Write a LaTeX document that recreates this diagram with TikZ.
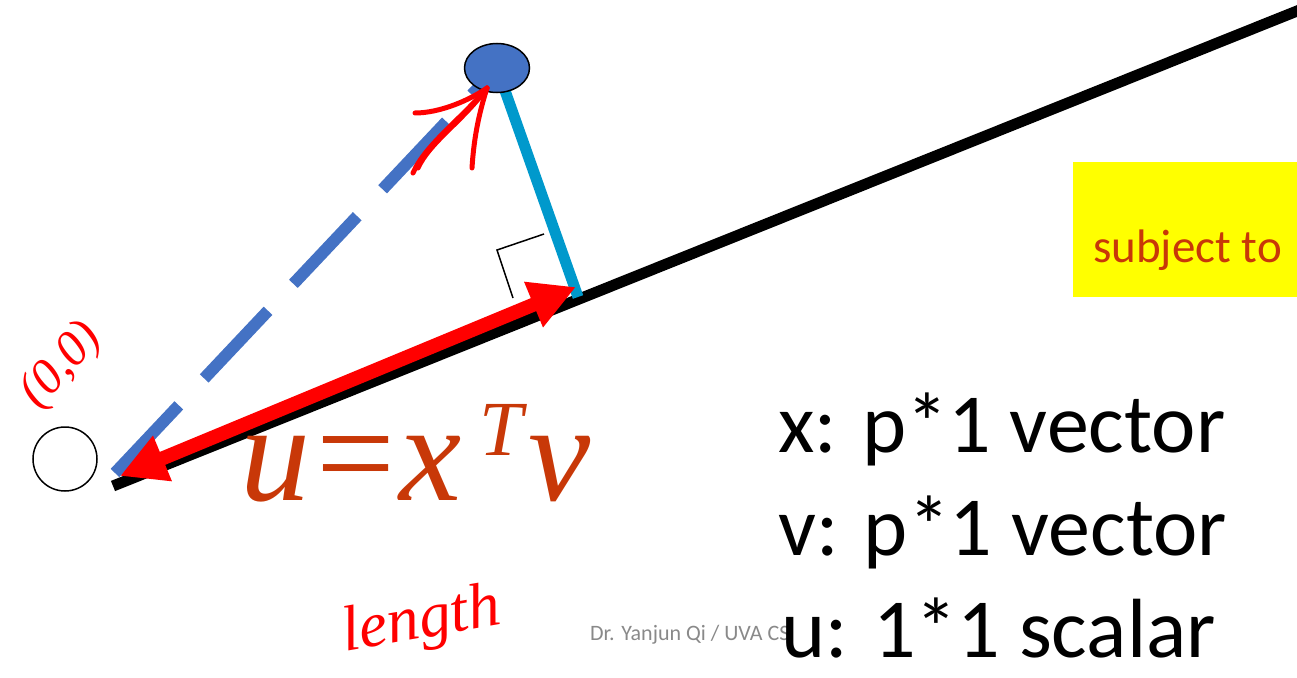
\documentclass[tikz,border=0pt]{standalone}
\usepackage{fontspec}
\setmainfont{Carlito}
\newfontface\handit{Liberation Serif Italic}
\newfontface\handrm{Liberation Serif}
\usetikzlibrary{arrows.meta,shapes.geometric}

\definecolor{dotblue}{RGB}{68,114,196}
\definecolor{projcyan}{RGB}{0,153,204}
\definecolor{rust}{RGB}{200,56,8}
\definecolor{footgrey}{RGB}{137,137,137}
\definecolor{hlyellow}{RGB}{255,255,0}

\tikzset{
  ink/.style={red,line width=5pt,line cap=round,line join=round},
  bigtext/.style={font=\fontsize{84}{84}\selectfont,anchor=base west,inner sep=0pt},
  handtext/.style={text=red,inner sep=0pt},
}

\begin{document}
\begin{tikzpicture}[x=1pt,y=-1pt]
  \useasboundingbox (0,0) rectangle (1297,677);
  \coordinate (L0) at (113,486);
  \coordinate (L1) at (1312,5);
  \coordinate (O) at (115,473);
  \coordinate (P) at (497,68);
  \coordinate (F) at (578,297);
  \coordinate (A0) at (120,476);
  \coordinate (A1) at (576,287);
  % the line
  \draw[line width=11pt] (L0) -- (L1);
  \draw[line width=1.5pt] (513,298) -- (497,250) -- (544,234);
  % projection and data point
  \draw[projcyan,line width=11pt] (P) -- (F);
  \draw[dotblue,line width=12pt,dash pattern=on 93pt off 37pt] (O) -- (P);
  \node[ellipse,draw,fill=dotblue,line width=1.5pt,minimum width=65pt,minimum height=49pt,inner sep=0pt] (dot) at (P) {};
  \node[circle,draw,line width=1.5pt,minimum size=64pt,inner sep=0pt] (origin) at (65,459) {};
  \draw[red,line width=14pt,{Triangle[length=46pt,width=46pt]}-{Triangle[length=46pt,width=46pt]}] (A0) -- (A1);
  % handwriting
  \draw[ink] (413,173) .. controls (425,145) and (460,120) .. (487,88);
  \draw[ink] (418,168) .. controls (430,142) and (462,122) .. (487,88);
  \draw[ink] (415,113) .. controls (440,113) and (470,100) .. (487,88);
  \draw[ink] (472,168) .. controls (474,135) and (480,110) .. (487,88);
  \node[handtext,font=\handit\fontsize{50}{50}\selectfont,rotate=48] (zero) at (62,366) {(0,0)};
  \node[handtext,font=\handit\fontsize{64}{64}\selectfont,anchor=base west,rotate=10] (len) at (345,652) {length};
  % texts
  \node[text=rust,font=\handit\fontsize{140}{140}\selectfont,anchor=base west,inner sep=0pt] (eq) at (240,500)
    {u\hspace{6pt}{\handrm=}\hspace{4pt}x\hspace{18pt}\raisebox{45pt}{\fontsize{78}{78}\selectfont T}\hspace{6pt}v};
  \node[fill=hlyellow,anchor=north west,minimum width=224pt,minimum height=135pt,inner sep=0pt] (box) at (1073,162) {};
  \node[text=rust,font=\fontsize{47}{47}\selectfont,anchor=base west,inner sep=0pt] (subj) at (1093,262) {subject to};
  \node[text=footgrey,font=\fontsize{22}{22}\selectfont,anchor=base west,inner sep=0pt] (foot) at (590,640) {Dr. Yanjun Qi / UVA CS};
  \node[bigtext] (xdesc) at (778,452) {x: p*1 vector};
  \node[bigtext] (vdesc) at (778,555) {v: p*1 vector};
  \node[bigtext] (udesc) at (781,657) {u: 1*1 scalar};
\end{tikzpicture}
\end{document}
